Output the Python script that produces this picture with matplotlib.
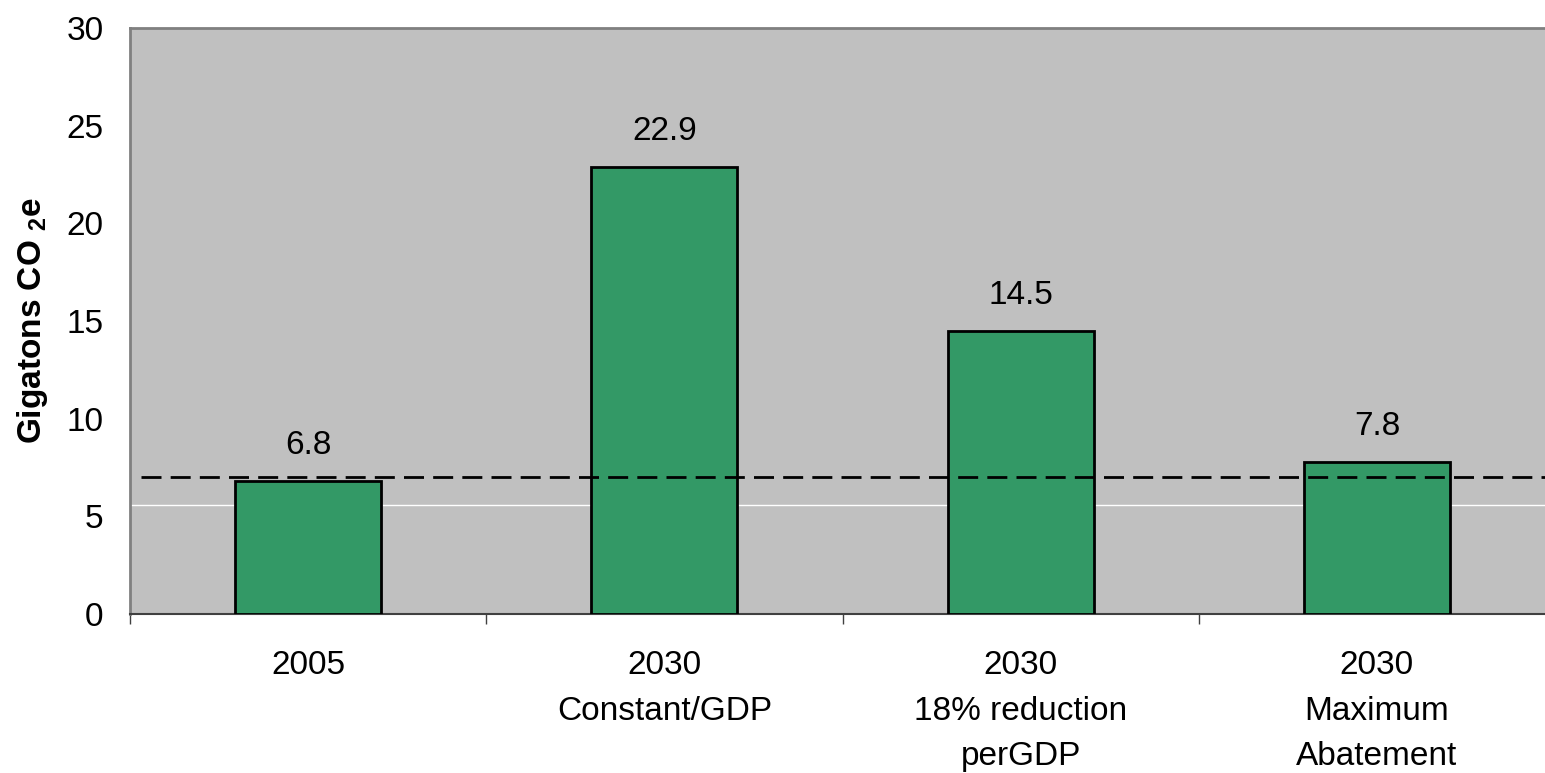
import matplotlib
matplotlib.use("Agg")
import matplotlib.pyplot as plt
from matplotlib.ticker import FixedLocator

plt.rcParams['font.family'] = ['Liberation Sans', 'DejaVu Sans']
plt.rcParams['mathtext.fontset'] = 'custom'
plt.rcParams['mathtext.rm'] = 'Liberation Sans:bold'
plt.rcParams['mathtext.bf'] = 'Liberation Sans:bold'

categories = ["2005", "2030\nConstant/GDP", "2030\n18% reduction\nperGDP", "2030\nMaximum\nAbatement"]
values = [6.8, 22.9, 14.5, 7.8]
value_labels = ["6.8", "22.9", "14.5", "7.8"]
target_level = 7.0
white_line_level = 5.6
y_ticks = [0, 5, 10, 15, 20, 25, 30]

W, H = 1545, 773
fig = plt.figure(figsize=(W / 100, H / 100), dpi=100)
ax = fig.add_axes([130 / W, (H - 614) / H, 1425 / W, 586 / H])
ax.set_facecolor('#C0C0C0')

x = list(range(len(categories)))
ax.bar(x, values, width=0.41, color='#339966', edgecolor='black', linewidth=2, zorder=3)

ax.axhline(white_line_level, color='white', linewidth=1, zorder=1)
ax.axhline(target_level, xmin=0.0077, xmax=1, color='black', linewidth=2,
           linestyle=(0, (7.2, 3.3)), zorder=4)

for xi, v, lab in zip(x, values, value_labels):
    ax.annotate(lab, (xi, v), xytext=(0, 19.5), textcoords='offset points',
                ha='center', va='baseline', fontsize=24, color='black')

ax.set_xlim(-0.5, len(categories) - 0.5)
ax.set_ylim(0, 30)
ax.set_yticks(y_ticks)
ax.set_yticklabels([str(t) for t in y_ticks], fontsize=24)
ax.tick_params(axis='y', length=0, pad=19)

ax.set_xticks(x)
ax.set_xticklabels(categories, fontsize=24, linespacing=1.6)
ax.tick_params(axis='x', which='major', length=0, pad=26)
ax.xaxis.set_minor_locator(FixedLocator([i - 0.5 for i in range(len(categories) + 1)]))
ax.tick_params(axis='x', which='minor', length=7.5, width=1, color='#404040', direction='out')

ax.spines['left'].set_color('#808080')
ax.spines['left'].set_linewidth(2)
ax.spines['top'].set_color('#808080')
ax.spines['top'].set_linewidth(2)
ax.spines['bottom'].set_color('#404040')
ax.spines['bottom'].set_linewidth(1.5)
ax.spines['right'].set_visible(False)

ax.set_ylabel(r"Gigatons CO $_{\mathbf{2}}$e", fontsize=24, fontweight='bold', labelpad=12)

fig.savefig("out.png", dpi=100)
